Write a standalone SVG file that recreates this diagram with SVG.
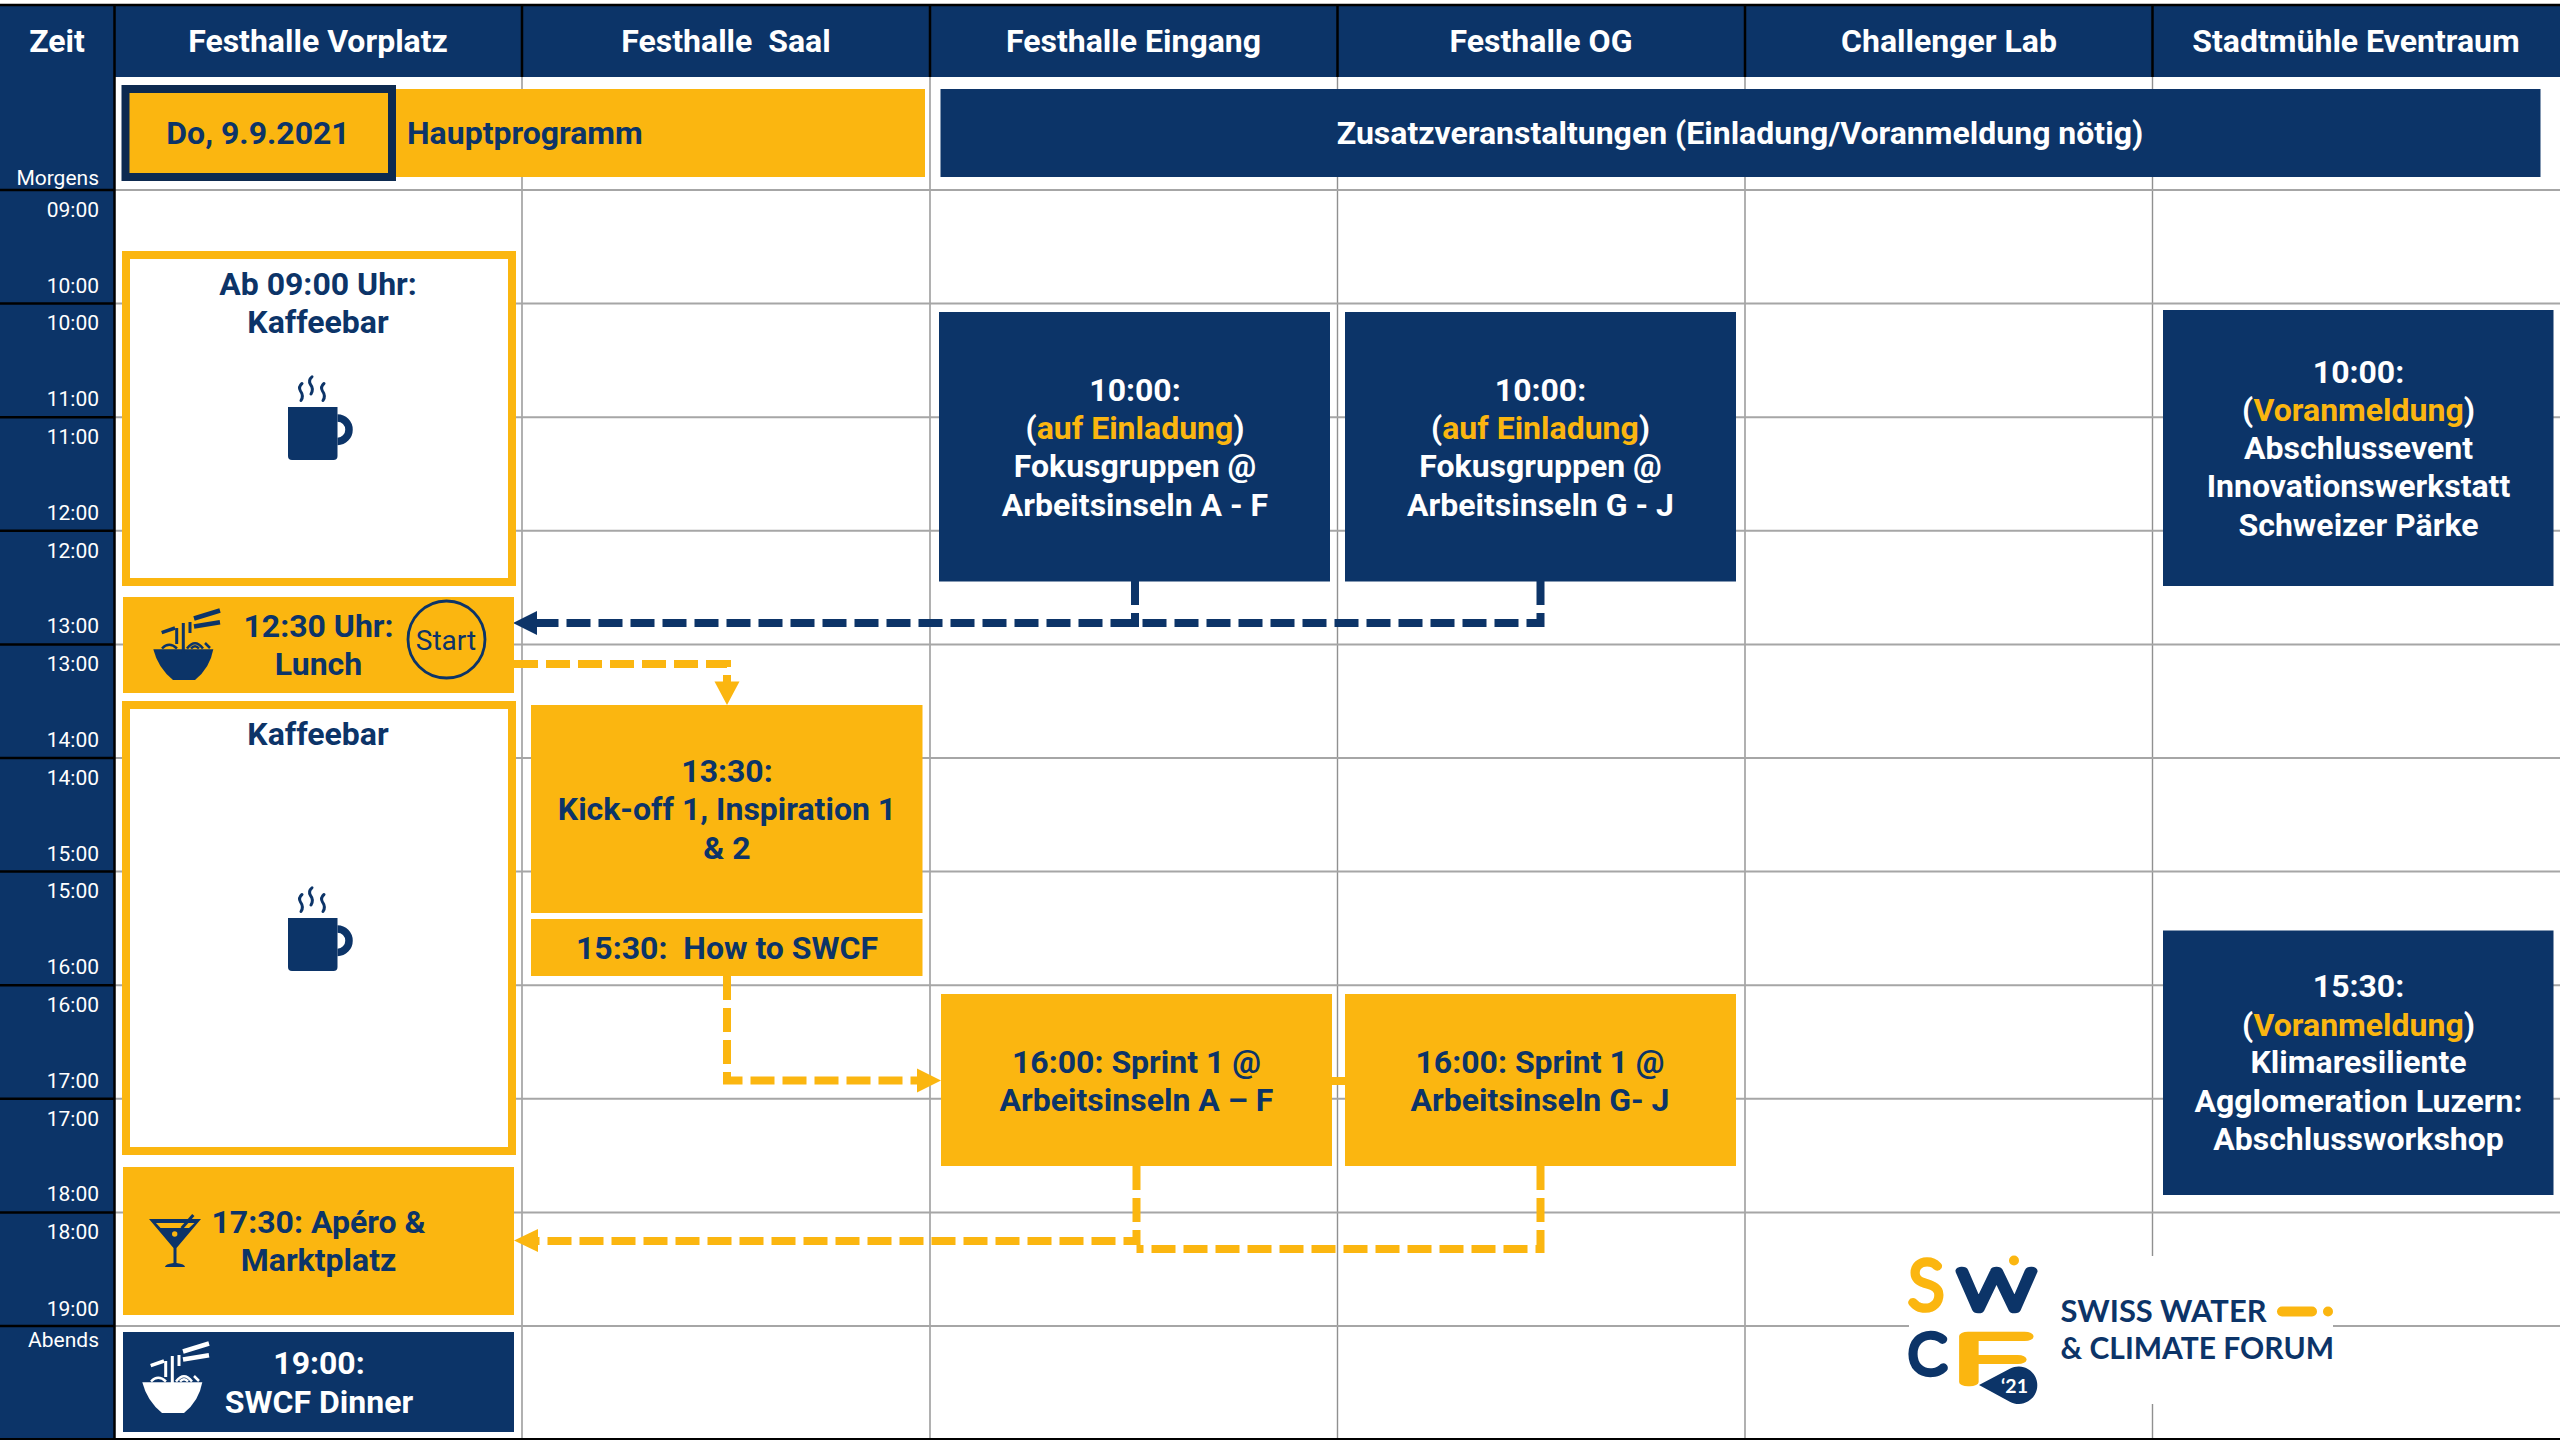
<svg xmlns="http://www.w3.org/2000/svg" width="2560" height="1440" viewBox="0 0 2560 1440">
<style>
text{font-family:Roboto,"Liberation Sans",sans-serif}
.t{font-size:32px;font-weight:700;text-anchor:middle;fill:#0C3468}
.w{fill:#fff}
.y{fill:#FBB610}
.n{fill:#0C3468}
.time{font-size:21px;fill:#fff;text-anchor:end}
.grid{stroke:#A6A6A6;stroke-width:2;fill:none}
.gridv{stroke:#909090;stroke-width:1.4;fill:none}
.blk{stroke:#000;fill:none}
.dn{fill:none;stroke:#0C3468;stroke-width:8;stroke-dasharray:24 8}
.dy{fill:none;stroke:#FBB610;stroke-width:8;stroke-dasharray:24 8}
.lg{font-family:Lato,"Open Sans",sans-serif;font-weight:700}
.mark{font-family:Lato,"Open Sans",sans-serif;font-weight:100;stroke-width:8.500;stroke-linejoin:round;stroke-linecap:round}
</style>
<defs>
<g id="bowl">
<path d="M.3 39.300H60.300Q57 58 42 70H20Q5 58 .3 39.300Z" fill="currentColor"/>
<path d="M23.700 18V34M30.300 13V43M37 12V23" fill="none" stroke="currentColor" stroke-width="3"/>
<path d="M9 38.500Q16 31 24 38.500M34 38.500Q42 28 50 38.500M38 38.500Q42 34 46 38.500M52 33L57 38" fill="none" stroke="currentColor" stroke-width="2.500"/>
<path d="M8.700 22.700L22 18" fill="none" stroke="currentColor" stroke-width="3.500"/>
<path d="M41 8.500L67 .5M41 16.500L67 12.200" fill="none" stroke="currentColor" stroke-width="4.500"/>
</g>
<g id="cup">
<path d="M14 7.500Q10 11 12.500 15Q16 20 13 24.500M24 .8Q20 4 22.500 8.500Q26 13 23 18M36 7.500Q32 11 34.500 15Q38 20 35 24.500" fill="none" stroke="#0C3468" stroke-width="3" stroke-linecap="round"/>
<path d="M0 31H49.500V80Q49.500 84 45.500 84H4Q0 84 0 80Z" class="n"/>
<path d="M49.500 42A11.500 11.700 0 0 1 49.500 65.400" fill="none" stroke="#0C3468" stroke-width="7.500"/>
</g>
</defs>
<rect width="2560" height="1440" fill="#fff"/>
<g id="grid">
<path class="gridv" d="M522 77V1440M930 77V1440M1337.500 77V1440M1745 77V1440M2152.500 77V1440"/>
<path class="grid" d="M115 190H2560M115 303.600H2560M115 417.200H2560M115 530.800H2560M115 644.400H2560M115 758H2560M115 871.600H2560M115 985.200H2560M115 1098.800H2560M115 1212.400H2560M115 1326H2560"/>
<rect x="0" y="5" width="2560" height="72" class="n"/>
<rect x="0" y="77" width="114" height="1363" class="n"/>
<path class="blk" stroke-width="2.500" d="M0 5H2560M114.500 5V1440M522 5V77M930 5V77M1337.500 5V77M1745 5V77M2152.500 5V77M0 190H114M0 303.600H114M0 417.200H114M0 530.800H114M0 644.400H114M0 758H114M0 871.600H114M0 985.200H114M0 1098.800H114M0 1212.400H114M0 1326H114M0 1439.200H2560"/>
</g>
<g id="header">
<text class="t w" x="57" y="52">Zeit</text>
<text class="t w" x="318" y="52">Festhalle Vorplatz</text>
<text class="t w" x="726" y="52" xml:space="preserve">Festhalle  Saal</text>
<text class="t w" x="1133.500" y="52">Festhalle Eingang</text>
<text class="t w" x="1541" y="52">Festhalle OG</text>
<text class="t w" x="1949" y="52">Challenger Lab</text>
<text class="t w" x="2356" y="52">Stadtmühle Eventraum</text>
</g>
<g id="times">
<text class="time" x="99" y="184.500">Morgens</text>
<text class="time" x="99" y="217">09:00</text><text class="time" x="99" y="292.600">10:00</text>
<text class="time" x="99" y="330.300">10:00</text><text class="time" x="99" y="406.200">11:00</text>
<text class="time" x="99" y="443.900">11:00</text><text class="time" x="99" y="519.800">12:00</text>
<text class="time" x="99" y="557.500">12:00</text><text class="time" x="99" y="633.400">13:00</text>
<text class="time" x="99" y="671.100">13:00</text><text class="time" x="99" y="747">14:00</text>
<text class="time" x="99" y="784.700">14:00</text><text class="time" x="99" y="860.600">15:00</text>
<text class="time" x="99" y="898.300">15:00</text><text class="time" x="99" y="974.200">16:00</text>
<text class="time" x="99" y="1011.900">16:00</text><text class="time" x="99" y="1087.800">17:00</text>
<text class="time" x="99" y="1125.500">17:00</text><text class="time" x="99" y="1201.400">18:00</text>
<text class="time" x="99" y="1239.100">18:00</text><text class="time" x="99" y="1315.500">19:00</text>
<text class="time" x="99" y="1347">Abends</text>
</g>
<g id="connectors">
<path class="dn" d="M1540.500 581V623H537"/>
<path class="dn" d="M1135 581V623H1120"/>
<path class="n" d="M513 623L537 611V635Z"/>
<path class="dy" d="M514 664H727V682"/>
<path class="y" d="M727 705L714.500 681.500H739.500Z"/>
<path class="dy" d="M727 976V1080.500H917"/>
<path class="y" d="M941 1080.500L917 1068.500V1092.500Z"/>
<path class="dy" d="M1136.500 1166V1241H538"/>
<path class="dy" d="M1540.500 1166V1249H1136.500"/>
<path class="y" d="M514 1240.500L538 1229V1252Z"/>
<rect class="y" x="1332" y="1077" width="13" height="8"/>
</g>
<g id="hauptprogramm">
<rect class="y" x="396" y="89" width="529" height="88"/>
<text class="t" x="407" y="144" style="text-anchor:start">Hauptprogramm</text>
</g>
<g id="date">
<rect x="125.500" y="89" width="266.500" height="88" fill="#FBB610" stroke="#0D2A50" stroke-width="8"/>
<text class="t" x="258" y="144">Do, 9.9.2021</text>
</g>
<g id="zusatz">
<rect class="n" x="940.500" y="89" width="1600" height="88"/>
<text class="t w" x="1740" y="144">Zusatzveranstaltungen (Einladung/Voranmeldung nötig)</text>
</g>
<g id="kaffeebar1">
<rect x="126" y="255" width="386" height="327" fill="#fff" stroke="#FBB610" stroke-width="8"/>
<text class="t" x="318" y="294.500">Ab 09:00 Uhr:</text>
<text class="t" x="318" y="332.500">Kaffeebar</text>
<use href="#cup" x="288" y="376"/>
</g>
<g id="lunch">
<rect class="y" x="123" y="597" width="391" height="96"/>
<text class="t" x="318.500" y="637">12:30 Uhr:</text>
<text class="t" x="318.500" y="675">Lunch</text>
<use href="#bowl" x="153" y="610" color="#0C3468"/>
<ellipse cx="446.500" cy="639.500" rx="38.500" ry="38.500" fill="none" stroke="#0C3468" stroke-width="2.800"/>
<text x="446" y="650" font-size="28" fill="#0C3468" text-anchor="middle">Start</text>
</g>
<g id="kaffeebar2">
<rect x="126" y="705" width="386" height="446" fill="#fff" stroke="#FBB610" stroke-width="8"/>
<text class="t" x="318" y="745">Kaffeebar</text>
<use href="#cup" x="288" y="887"/>
</g>
<g id="kickoff">
<rect class="y" x="531" y="705" width="391.500" height="208"/>
<text class="t" x="727" y="782">13:30:</text>
<text class="t" x="727" y="820">Kick-off 1, Inspiration 1</text>
<text class="t" x="727" y="858.500">&amp; 2</text>
</g>
<g id="howto">
<rect class="y" x="531" y="919" width="391.500" height="57"/>
<text class="t" x="727" y="959" xml:space="preserve">15:30:  How to SWCF</text>
</g>
<g id="fokus1">
<rect class="n" x="939" y="312" width="391" height="269.500"/>
<text class="t w" x="1135" y="400.500">10:00:</text>
<text class="t w" x="1135" y="438.500">(<tspan class="y">auf Einladung</tspan>)</text>
<text class="t w" x="1135" y="477">Fokusgruppen @</text>
<text class="t w" x="1135" y="515.500">Arbeitsinseln A - F</text>
</g>
<g id="fokus2">
<rect class="n" x="1345" y="312" width="391" height="269.500"/>
<text class="t w" x="1540.500" y="400.500">10:00:</text>
<text class="t w" x="1540.500" y="438.500">(<tspan class="y">auf Einladung</tspan>)</text>
<text class="t w" x="1540.500" y="477">Fokusgruppen @</text>
<text class="t w" x="1540.500" y="515.500">Arbeitsinseln G - J</text>
</g>
<g id="abschlussevent">
<rect class="n" x="2163" y="310" width="390.500" height="276"/>
<text class="t w" x="2358.500" y="382.500">10:00:</text>
<text class="t w" x="2358.500" y="420.500">(<tspan class="y">Voranmeldung</tspan>)</text>
<text class="t w" x="2358.500" y="459">Abschlussevent</text>
<text class="t w" x="2358.500" y="497">Innovationswerkstatt</text>
<text class="t w" x="2358.500" y="535.500">Schweizer Pärke</text>
</g>
<g id="abschlussworkshop">
<rect class="n" x="2163" y="930.500" width="390.500" height="264.500"/>
<text class="t w" x="2358.500" y="996.500">15:30:</text>
<text class="t w" x="2358.500" y="1035.500">(<tspan class="y">Voranmeldung</tspan>)</text>
<text class="t w" x="2358.500" y="1073">Klimaresiliente</text>
<text class="t w" x="2358.500" y="1112">Agglomeration Luzern:</text>
<text class="t w" x="2358.500" y="1150">Abschlussworkshop</text>
</g>
<g id="sprint1">
<rect class="y" x="941" y="994" width="391" height="172"/>
<text class="t" x="1136.500" y="1073">16:00: Sprint 1 @</text>
<text class="t" x="1136.500" y="1111">Arbeitsinseln A – F</text>
</g>
<g id="sprint2">
<rect class="y" x="1345" y="994" width="391" height="172"/>
<text class="t" x="1540" y="1073">16:00: Sprint 1 @</text>
<text class="t" x="1540" y="1111">Arbeitsinseln G- J</text>
</g>
<g id="apero">
<rect class="y" x="123" y="1167" width="391" height="148"/>
<text class="t" x="318.500" y="1233">17:30: Apéro &amp;</text>
<text class="t" x="318.500" y="1271">Marktplatz</text>
<path class="n" d="M149 1219H201L176.500 1248V1263Q185 1264 185 1267H165Q165 1264 173.500 1263V1248Z"/>
<path class="y" d="M156 1223H194.500L189 1228H160.500Z"/>
<circle class="y" cx="174.700" cy="1234" r="2.700"/>
<path d="M181.700 1228.300L193.300 1215" stroke="#0C3468" stroke-width="3"/>
</g>
<g id="dinner">
<rect class="n" x="123" y="1332" width="391" height="100"/>
<text class="t w" x="319" y="1373.500">19:00:</text>
<text class="t w" x="319" y="1412.500">SWCF Dinner</text>
<use href="#bowl" x="142" y="1343" color="#fff"/>
</g>
<g id="logo">
<rect x="1909" y="1256" width="424" height="148" fill="#fff"/>
<text class="mark" x="1909" y="1308" font-size="65" fill="#FBB610" stroke="#FBB610">S</text>
<text class="mark" x="1959" y="1308.500" font-size="54" textLength="75" lengthAdjust="spacingAndGlyphs" fill="#0C3468" stroke="#0C3468">W</text>
<text class="mark" x="1909" y="1373" font-size="54" fill="#0C3468" stroke="#0C3468">C</text>
<text class="mark" x="1952" y="1381.500" font-size="66" textLength="78" lengthAdjust="spacingAndGlyphs" fill="#FBB610" stroke="#FBB610">F</text>
<circle class="y" cx="2014" cy="1260.500" r="5"/>
<path class="n" d="M1979 1385L2009.800 1368.800A18.700 18.700 0 1 1 2009.800 1401.800Z"/>
<text class="lg" x="2014.500" y="1392.500" font-size="19.500" text-anchor="middle" fill="#fff">‘21</text>
<text class="lg" x="2060.500" y="1321.500" font-size="30" textLength="206" lengthAdjust="spacingAndGlyphs" fill="#0C3468">SWISS WATER</text>
<text class="lg" x="2060.500" y="1358.500" font-size="30" textLength="273.500" lengthAdjust="spacingAndGlyphs" fill="#0C3468">&amp; CLIMATE FORUM</text>
<rect class="y" x="2277" y="1306.500" width="40" height="10" rx="5"/>
<circle class="y" cx="2328" cy="1311.500" r="5"/>
</g>
</svg>
